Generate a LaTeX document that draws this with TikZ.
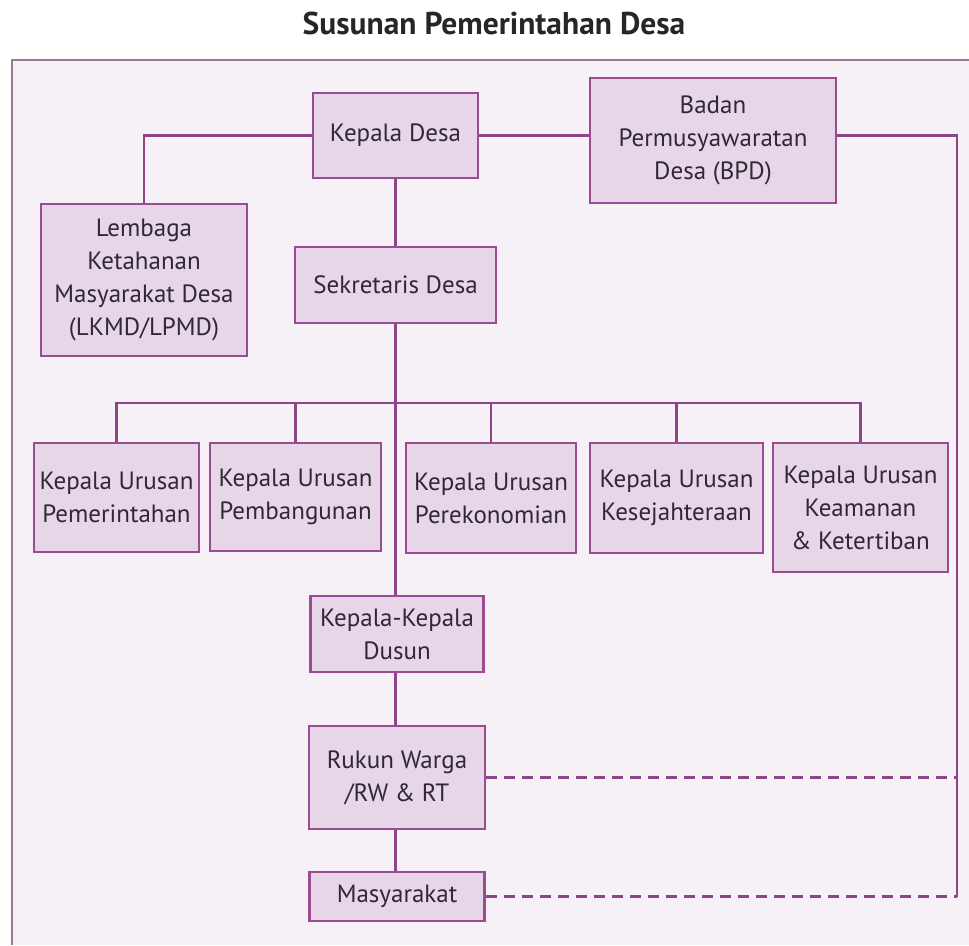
\documentclass[tikz,border=0pt]{standalone}
\usepackage{fontspec}
\setmainfont{PT Sans}
\definecolor{bgc}{HTML}{F6F0F7}
\definecolor{boxfill}{HTML}{E7D5E8}
\definecolor{boxline}{HTML}{9C4A92}
\definecolor{connc}{HTML}{8E4585}
\definecolor{framec}{HTML}{8F7F90}
\definecolor{txtc}{HTML}{2E2935}
\tikzset{
  orgbox/.style={draw=boxline, fill=boxfill, line width=2.5pt, align=center,
    inner sep=0pt, text=txtc, font=\fontsize{25}{33}\selectfont},
  conn/.style={draw=connc, line width=2.5pt},
  dashconn/.style={draw=connc, line width=2.5pt, dash pattern=on 11pt off 7pt},
}
\begin{document}
\begin{tikzpicture}[x=1pt,y=-1pt]
\useasboundingbox (0,0) rectangle (969,945);
\fill[bgc] (12,60) rectangle (969,945);
\draw[framec, line width=2pt] (12,945) -- (12,60) -- (969,60);
\node[font=\bfseries\fontsize{31.5}{34}\selectfont, text=black!85] (title) at (494,23) {Susunan Pemerintahan Desa};

\node[orgbox, minimum width=165pt, minimum height=85pt] (kd) at (395.5,135.5) {Kepala Desa};
\node[orgbox, minimum width=206pt, minimum height=152pt] (lk) at (144,280) {Lembaga\\Ketahanan\\Masyarakat Desa\\(LKMD/LPMD)};
\node[orgbox, minimum width=201pt, minimum height=76pt] (sk) at (395.5,285) {Sekretaris Desa};
\node[orgbox, minimum width=246pt, minimum height=125pt] (bpd) at (713,140.5) {Badan\\Permusyawaratan\\Desa (BPD)};

\node[orgbox, minimum width=165pt, minimum height=109pt] (k1) at (116.5,497.5) {Kepala Urusan\\Pemerintahan};
\node[orgbox, minimum width=171pt, minimum height=108pt] (k2) at (295.5,497) {Kepala Urusan\\Pembangunan};
\node[orgbox, minimum width=170pt, minimum height=110pt] (k3) at (491,498) {Kepala Urusan\\Perekonomian};
\node[orgbox, minimum width=173pt, minimum height=110pt] (k4) at (676.5,498) {Kepala Urusan\\Kesejahteraan};
\node[orgbox, minimum width=175pt, minimum height=129pt] (k5) at (860.5,507.5) {Kepala Urusan\\Keamanan\\\& Ketertiban};

\node[orgbox, minimum width=173pt, minimum height=76pt] (du) at (397,634) {Kepala-Kepala\\Dusun};
\node[orgbox, minimum width=176pt, minimum height=103pt] (rw) at (397,777.5) {Rukun Warga\\/RW \& RT};
\node[orgbox, minimum width=175pt, minimum height=49pt] (ms) at (397,896.5) {Masyarakat};

\coordinate (bus) at (395.5,403);
\coordinate (rtop) at (957,135.5);
\coordinate (rbot) at (957,896.5);

\draw[conn] (kd.west) -| (lk.north);
\draw[conn] (kd.east) -- (kd.east -| bpd.west);
\draw[conn] (kd.east -| bpd.east) -- (rtop) -- (rbot);
\draw[conn] (kd.south) -- (sk.north);
\draw[conn] (sk.south) -- (sk.south |- du.north);
\draw[conn] (k1.north) |- (bus) -| (k5.north);
\draw[conn] (k2.north) -- (k2.north |- bus);
\draw[conn] (k3.north) -- (k3.north |- bus);
\draw[conn] (k4.north) -- (k4.north |- bus);
\draw[conn] (du.south -| sk.south) -- (rw.north -| sk.south);
\draw[conn] (rw.south -| sk.south) -- (ms.north -| sk.south);
\draw[dashconn] (rw.east) -- (rw.east -| rtop);
\draw[dashconn] (ms.east) -- (rbot);
\end{tikzpicture}
\end{document}
